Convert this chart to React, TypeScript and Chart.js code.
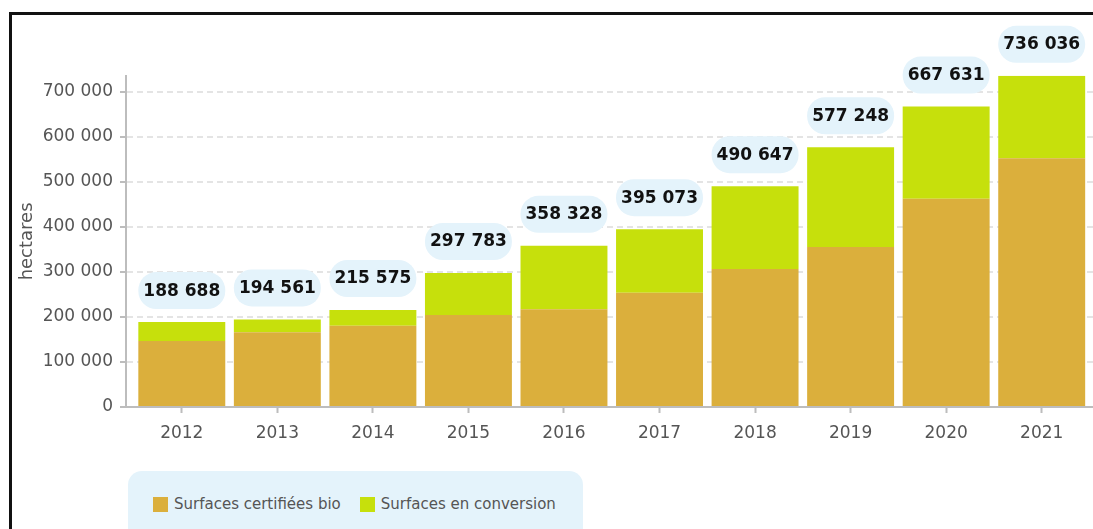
import React, { useEffect, useRef } from 'react';
import { Chart, registerables } from 'chart.js';

Chart.register(...registerables);

const years = ['2012', '2013', '2014', '2015', '2016', '2017', '2018', '2019', '2020', '2021'];
const certifiedBio = [146700, 166000, 180700, 204400, 217000, 254000, 306700, 355600, 463000, 553000];
const inConversion = [41988, 28561, 34875, 93383, 141328, 141073, 183947, 221648, 204631, 183036];
const totalLabels = [188688, 194561, 215575, 297783, 358328, 395073, 490647, 577248, 667631, 736036];
const yTickValues = [0, 100000, 200000, 300000, 400000, 500000, 600000, 700000];
const seriesLabels = ['Surfaces certifiées bio', 'Surfaces en conversion'];
const seriesColors = ['#dbaf3c', '#c6e00c'];
const yAxisTitle = 'hectares';

const BUBBLE_BG = '#e4f3fb';
const FONT = '"DejaVu Sans", sans-serif';

function fmt(v: number): string {
  return String(Math.round(v)).replace(/\B(?=(\d{3})+(?!\d))/g, ' ');
}

const bubblePlugin = {
  id: 'totalBubbles',
  afterDatasetsDraw(chart: any) {
    const ctx = chart.ctx;
    const meta = chart.getDatasetMeta(chart.data.datasets.length - 1);
    ctx.save();
    meta.data.forEach((el: any, i: number) => {
      const { x, y, width } = el.getProps(['x', 'y', 'width'], true);
      const cy = y - 31.5;
      const h = 37;
      const w = width;
      ctx.beginPath();
      ctx.roundRect(x - w / 2, cy - h / 2, w, h, 18);
      ctx.fillStyle = BUBBLE_BG;
      ctx.fill();
      ctx.font = 'bold 17px ' + FONT;
      ctx.fillStyle = '#111';
      ctx.textAlign = 'center';
      ctx.textBaseline = 'middle';
      ctx.fillText(fmt(totalLabels[i]), x, cy + 0.5);
    });
    ctx.restore();
  },
};

export default function App() {
  const canvasRef = useRef<HTMLCanvasElement | null>(null);

  useEffect(() => {
    if (!canvasRef.current) return;
    const pad = 0.084;
    const chart = new Chart(canvasRef.current, {
      type: 'bar',
      data: {
        datasets: [
          {
            label: seriesLabels[0],
            data: certifiedBio.map((v, i) => ({ x: i, y: v })),
            backgroundColor: seriesColors[0],
            borderWidth: 0,
            stack: 'total',
          },
          {
            label: seriesLabels[1],
            data: inConversion.map((v, i) => ({ x: i, y: v })),
            backgroundColor: seriesColors[1],
            borderWidth: 0,
            stack: 'total',
          },
        ],
      },
      options: {
        animation: false,
        responsive: false,
        layout: { padding: { top: 60.8, right: 2.5, left: 0, bottom: 0 } },
        datasets: { bar: { categoryPercentage: 1, barPercentage: 0.91 } },
        plugins: { legend: { display: false }, tooltip: { enabled: false } },
        scales: {
          x: {
            type: 'linear',
            bounds: 'data',
            offset: false,
            min: -0.5 - pad,
            max: years.length - 0.5 + pad,
            afterBuildTicks: (scale: any) => {
              scale.ticks = years.map((_, i) => ({ value: i }));
            },
            afterFit: (scale: any) => {
              scale.height = 58;
            },
            ticks: {
              callback: (v: any) => years[Math.round(Number(v))],
              color: '#555',
              font: { family: FONT, size: 17 },
              padding: 10,
              maxRotation: 0,
              autoSkip: false,
            },
            grid: {
              offset: false,
              drawOnChartArea: false,
              drawTicks: true,
              tickLength: 6,
              tickColor: '#bdbdbd',
              tickWidth: 2,
            },
            border: { display: true, color: '#bdbdbd', width: 2 },
          },
          y: {
            stacked: true,
            bounds: 'data',
            min: 0,
            max: Math.max(...totalLabels),
            afterBuildTicks: (scale: any) => {
              scale.ticks = yTickValues.map((v) => ({ value: v }));
            },
            afterFit: (scale: any) => {
              scale.width = 114;
            },
            ticks: {
              callback: (v: any) => fmt(Number(v)),
              color: '#555',
              font: { family: FONT, size: 17 },
              padding: 7,
            },
            grid: {
              color: '#e4e4e4',
              lineWidth: 2,
              tickLength: 6,
              tickColor: '#bdbdbd',
              tickWidth: 2,
              tickBorderDash: [],
            },
            border: { display: true, color: '#bdbdbd', width: 2, dash: [6, 4] },
            title: {
              display: true,
              text: yAxisTitle,
              color: '#555',
              font: { family: FONT, size: 18 },
              padding: { top: 5, bottom: 0 },
            },
          },
        },
      } as any,
      plugins: [bubblePlugin],
    });
    return () => chart.destroy();
  }, []);

  return (
    <div
      style={{
        position: 'fixed',
        left: 0,
        top: 0,
        width: 1093,
        height: 529,
        overflow: 'hidden',
        background: '#fff',
      }}
    >
      <div
        style={{
          position: 'absolute',
          left: 9,
          top: 12,
          width: 1200,
          height: 600,
          borderTop: '3px solid #111',
          borderLeft: '3px solid #111',
        }}
      />
      <canvas
        ref={canvasRef}
        width={1088}
        height={450}
        style={{ position: 'absolute', left: 12, top: 15, width: 1088, height: 450 }}
      />
      <div
        style={{
          position: 'absolute',
          left: 128,
          top: 471,
          width: 455,
          height: 80,
          background: BUBBLE_BG,
          borderRadius: '14px 14px 0 0',
          boxSizing: 'border-box',
          paddingLeft: 25,
          paddingTop: 26,
          display: 'flex',
          alignItems: 'flex-start',
          fontFamily: FONT,
          fontSize: 15,
          color: '#555',
        }}
      >
        {seriesLabels.map((lbl, i) => (
          <div
            key={lbl}
            style={{ display: 'flex', alignItems: 'center', marginRight: i === 0 ? 19 : 0, height: 15 }}
          >
            <span
              style={{
                display: 'inline-block',
                width: 15,
                height: 15,
                background: seriesColors[i],
                marginRight: 6,
              }}
            />
            <span style={{ lineHeight: '15px', whiteSpace: 'nowrap' }}>{lbl}</span>
          </div>
        ))}
      </div>
    </div>
  );
}
